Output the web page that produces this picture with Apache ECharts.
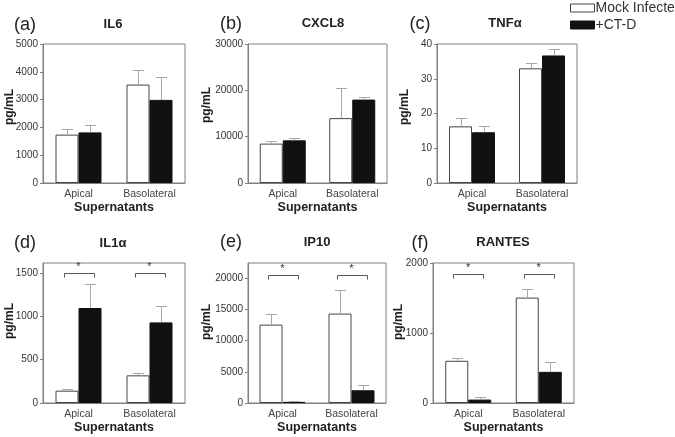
<!DOCTYPE html>
<html><head><meta charset="utf-8">
<script src="https://cdn.jsdelivr.net/npm/echarts@6/dist/echarts.min.js"></script>
<style>html,body{margin:0;padding:0;background:#fff}#c{width:675px;height:437px}</style>
</head><body><div id="c"></div>
<script>
// ---------------- data ----------------
const categories = ['Apical', 'Basolateral'];
const panelLetters = ['(a)', '(b)', '(c)', '(d)', '(e)', '(f)'];
const panelTitles = ['IL6', 'CXCL8', 'TNFα', 'IL1α', 'IP10', 'RANTES'];
const seriesNames = ['Mock Infected', '+CT-D'];
const yAxisName = 'pg/mL';
const xAxisName = 'Supernatants';
const mockValues  = [[1740, 3540], [8500, 14000], [16.3, 33.0], [142, 319], [12540, 14310], [603, 1506]];
const mockErrTops = [[1940, 4080], [9000, 20500], [18.7, 34.5], [161, 346], [14210, 18120], [646, 1632]];
const ctdValues   = [[1820, 2990], [9200, 18000], [14.6, 36.7], [1096, 930], [180, 2040], [49, 445]];
const ctdErrTops  = [[2100, 3830], [9800, 18500], [16.4, 38.7], [1376, 1120], [260, 2850], [86, 580]];
const yMax   = [5000, 30000, 40, 1615, 22400, 2000];
const yTicks = [[0, 1000, 2000, 3000, 4000, 5000], [0, 10000, 20000, 30000], [0, 10, 20, 30, 40],
                [0, 500, 1000, 1500], [0, 5000, 10000, 15000, 20000], [0, 1000, 2000]];
const sigBracketY = [null, null, null, 1500, 20500, 1842];
const sigLabel = '*';

// ---------------- layout / style ----------------
const grids = [
  {left: 43, top: 44, width: 142, height: 139},
  {left: 248, top: 44, width: 139, height: 139},
  {left: 437, top: 44, width: 140, height: 139},
  {left: 43, top: 263, width: 142, height: 140},
  {left: 248, top: 263, width: 138, height: 140},
  {left: 433, top: 263, width: 141, height: 140}
];
const yNamePos = [[10, 107], [207, 105], [405, 107], [10, 321], [207, 322], [399, 322]];
const titlePos = [[113, 24], [323, 23], [505, 23], [113, 243], [317, 242], [503, 242]];
const letterPos = [[25, 25], [231, 24], [420, 24], [25, 243], [231, 242], [420, 243]];
const BAR_W = 23;
const REG = "'Liberation Sans', Arial, sans-serif";
const BOX = '#808080';
const ERR = '#a8a8a8';

const option = {
  animation: false,
  backgroundColor: '#fff',
  grid: [], xAxis: [], yAxis: [], series: [], graphic: [],
  legend: {
    orient: 'vertical', left: 570, top: 1, padding: 0, itemWidth: 24, itemHeight: 8, itemGap: 3,
    textStyle: {fontFamily: REG, fontSize: 14, color: '#333', padding: [0, 0, 0, -4]},
    data: [
      {name: seriesNames[0], icon: 'rect', itemStyle: {color: '#fff', borderColor: '#444', borderWidth: 1}},
      {name: seriesNames[1], icon: 'rect', itemStyle: {color: '#111', borderColor: '#111', borderWidth: 1}}
    ]
  }
};

function errRender(params, api) {
  const c = api.value(0), v = api.value(1), t = api.value(2), side = api.value(3);
  const p0 = api.coord([c, v]);
  const p1 = api.coord([c, t]);
  const x = Math.round(p0[0] + (side ? BAR_W / 2 : -BAR_W / 2)) + 0.5;
  const yt = Math.round(p1[1]) + 0.5;
  return {type: 'group', children: [
    {type: 'line', shape: {x1: x, y1: p0[1], x2: x, y2: yt}, style: {stroke: ERR, lineWidth: 1}},
    {type: 'line', shape: {x1: x - 5.5, y1: yt, x2: x + 5.5, y2: yt}, style: {stroke: ERR, lineWidth: 1}}
  ]};
}
function sigRender(params, api) {
  const c = api.value(0), y = api.value(1);
  const p = api.coord([c, y]);
  const x1 = Math.round(p[0] - 15) + 0.5, x2 = Math.round(p[0] + 15) + 0.5, yy = Math.round(p[1]) + 0.5;
  return {type: 'group', children: [
    {type: 'polyline', shape: {points: [[x1, yy + 4], [x1, yy], [x2, yy], [x2, yy + 4]]},
     style: {stroke: '#555', lineWidth: 1, fill: null}},
    {type: 'text', x: p[0], y: yy - 1,
     style: {text: sigLabel, fontSize: 11, fontFamily: REG, fill: '#333', align: 'center', verticalAlign: 'bottom'}}
  ]};
}

for (let i = 0; i < 6; i++) {
  option.grid.push(Object.assign({show: true, borderColor: BOX, borderWidth: 1, containLabel: false}, grids[i]));
  option.xAxis.push({
    type: 'category', gridIndex: i, data: categories,
    name: xAxisName, nameLocation: 'middle', nameGap: 18,
    nameTextStyle: {fontFamily: REG, fontSize: 12.5, fontWeight: 'bold', color: '#222'},
    axisLine: {show: true, lineStyle: {color: BOX}}, axisTick: {show: false},
    axisLabel: {fontFamily: REG, fontSize: 10.5, color: '#444', margin: 6, interval: 0}
  });
  option.yAxis.push({
    type: 'value', gridIndex: i, min: 0, max: yMax[i],
    axisLine: {show: true, lineStyle: {color: BOX}},
    axisTick: {show: true, length: 3, lineStyle: {color: BOX}, customValues: yTicks[i]},
    axisLabel: {fontFamily: REG, fontSize: 10, color: '#333', margin: 5, customValues: yTicks[i],
                formatter: v => String(v)},
    splitLine: {show: false}
  });
  option.series.push({
    type: 'bar', name: seriesNames[0], xAxisIndex: i, yAxisIndex: i, data: mockValues[i],
    barWidth: BAR_W, barGap: '0%',
    itemStyle: {color: '#fff', borderColor: '#444', borderWidth: 1}, z: 2
  });
  option.series.push({
    type: 'bar', name: seriesNames[1], xAxisIndex: i, yAxisIndex: i, data: ctdValues[i],
    barWidth: BAR_W, barGap: '0%',
    itemStyle: {color: '#111', borderColor: '#111', borderWidth: 1}, z: 2
  });
  const errData = [];
  for (let k = 0; k < categories.length; k++) {
    errData.push([k, mockValues[i][k], mockErrTops[i][k], 0]);
    errData.push([k, ctdValues[i][k], ctdErrTops[i][k], 1]);
  }
  option.series.push({
    type: 'custom', xAxisIndex: i, yAxisIndex: i, renderItem: errRender, data: errData, z: 3,
    silent: true
  });
  if (sigBracketY[i] !== null) {
    option.series.push({
      type: 'custom', xAxisIndex: i, yAxisIndex: i, renderItem: sigRender, z: 3, silent: true,
      data: categories.map((c, k) => [k, sigBracketY[i]])
    });
  }
  option.graphic.push({type: 'text', x: titlePos[i][0], y: titlePos[i][1],
    style: {text: panelTitles[i], fontFamily: REG, fontSize: 13, fontWeight: 'bold', fill: '#222',
            align: 'center', verticalAlign: 'middle'}});
  option.graphic.push({type: 'text', x: letterPos[i][0], y: letterPos[i][1],
    style: {text: panelLetters[i], fontFamily: REG, fontSize: 18, fill: '#222',
            align: 'center', verticalAlign: 'middle'}});
  option.graphic.push({type: 'text', x: yNamePos[i][0], y: yNamePos[i][1], rotation: Math.PI / 2,
    style: {text: yAxisName, fontFamily: REG, fontSize: 12, fontWeight: 'bold', fill: '#222',
            align: 'center', verticalAlign: 'middle'}});
}

const chart = echarts.init(document.getElementById('c'), null, {renderer: 'canvas'});
chart.setOption(option);
</script></body></html>
